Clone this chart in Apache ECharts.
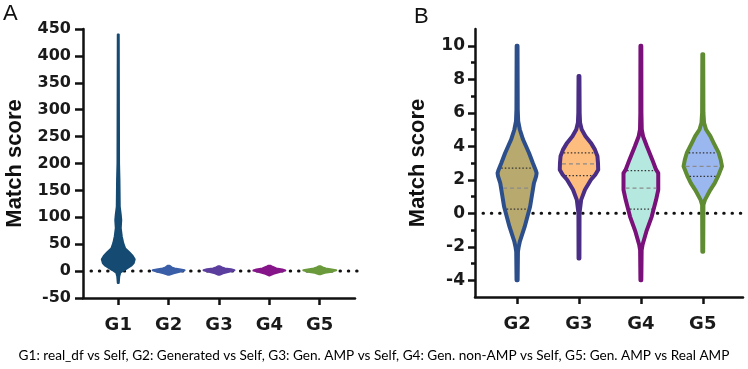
<!DOCTYPE html>
<html>
<head>
<meta charset="utf-8">
<script src="https://cdn.jsdelivr.net/npm/echarts@6/dist/echarts.min.js"></script>
<style>
  html, body { margin: 0; padding: 0; background: #fff; }
  #chart { width: 748px; height: 369px; }
</style>
</head>
<body>
<div id="chart"></div>
<script>
// categories / ticks
const catsA = ["G1", "G2", "G3", "G4", "G5"];
const catsB = ["G2", "G3", "G4", "G5"];
const ticksB = [-4, -2, 0, 2, 4, 6, 8, 10];
const minorTicksB = [-3, -1, 1, 3, 5, 7, 9];
const caption = "G1: real_df vs Self, G2: Generated vs Self, G3: Gen. AMP vs Self, G4: Gen. non-AMP vs Self, G5: Gen. AMP vs Real AMP";

// panel A: match score levels and violin density (relative half width)
const aG1Y = [-22, -10, -3, 2, 6, 10, 15, 22, 28, 35, 42, 52, 65, 80, 95, 105, 120, 170, 200, 440];
const aG1D = [0.5, 1, 2, 6, 9.5, 13, 15.5, 16.5, 14.5, 11, 7, 5, 3.5, 2.5, 3, 2.5, 1.5, 1.2, 0.8, 0.5];
const aG2Y = [-7, -4, -1, 1.5, 3, 5, 7, 10];
const aG2D = [0.5, 5, 12, 16, 12, 6, 3, 1];
const aG3Y = [-7, -4, -1, 1.5, 3.5, 5, 7, 9];
const aG3D = [0.5, 4, 11, 15.5, 12, 6, 3, 1];
const aG4Y = [-8, -5, -1, 1, 3, 5, 8, 10];
const aG4D = [0.5, 4, 12, 16, 13, 7, 3, 1];
const aG5Y = [-6, -3, -1, 1.5, 3, 5, 7, 9];
const aG5D = [0.5, 5, 12, 16.5, 12, 6, 3, 1];

// panel B: violin outlines
const bG2Y = [-4.0, -2.3, -2.0, -1.7, -0.8, 0.4, 1.0, 1.8, 2.2, 2.4, 2.6, 3.0, 3.6, 4.4, 5.0, 5.5, 6.2, 10];
const bG2D = [0.5, 0.8, 1.5, 2.5, 7, 12, 13.5, 15.5, 17.5, 18, 17, 14.5, 11, 5.5, 2.5, 1, 0.6, 0.4];
const bG3Y = [-2.7, 0.0, 0.8, 1.4, 2.0, 2.3, 2.6, 3.0, 3.4, 3.8, 4.2, 4.6, 5.0, 5.4, 6.0, 8.2];
const bG3D = [0.4, 0.5, 2, 5.5, 11, 15, 17.7, 17.5, 17, 14.7, 11, 6, 2.5, 1, 0.6, 0.4];
const bG4Y = [-4.0, -2.2, -1.9, -1.1, -0.2, 0.8, 1.4, 2.0, 2.4, 2.6, 3.2, 4.0, 4.6, 5.0, 6.0, 10.0];
const bG4D = [0.4, 0.7, 1.5, 5, 10, 14, 16, 16, 16, 14, 10.5, 5.5, 2, 0.8, 0.5, 0.4];
const bG5Y = [-2.3, 0.5, 0.8, 1.4, 1.8, 2.2, 2.8, 3.2, 3.6, 4.2, 4.6, 5.0, 5.4, 6.0, 9.5];
const bG5D = [0.4, 0.6, 2, 7, 11, 14, 17.7, 16.5, 14.7, 10, 7, 3, 1.2, 0.6, 0.4];
// quartiles [q1, median, q3]
const bG2Q = [0.25, 1.5, 2.7];
const bG3Q = [2.25, 2.95, 3.6];
const bG4Q = [0.25, 1.5, 2.55];
const bG5Q = [2.2, 2.8, 3.6];

const violinsA = [
  { y: aG1Y, d: aG1D, fill: "#154a73", stroke: "#154a73" },
  { y: aG2Y, d: aG2D, fill: "#3b5ea8", stroke: "#3b5ea8" },
  { y: aG3Y, d: aG3D, fill: "#5b3e9e", stroke: "#5b3e9e" },
  { y: aG4Y, d: aG4D, fill: "#87158a", stroke: "#87158a" },
  { y: aG5Y, d: aG5D, fill: "#6a9a3b", stroke: "#6a9a3b" },
];
const violinsB = [
  { y: bG2Y, d: bG2D, q: bG2Q, fill: "#b8a96e", stroke: "#2c4f8c" },
  { y: bG3Y, d: bG3D, q: bG3Q, fill: "#fdbd7f", stroke: "#4a2e86" },
  { y: bG4Y, d: bG4D, q: bG4Q, fill: "#b5e8df", stroke: "#7a107a" },
  { y: bG5Y, d: bG5D, q: bG5Q, fill: "#9bb7ef", stroke: "#5f8b32" },
];

function interp(ys, ds, v) {
  for (let k = 1; k < ys.length; k++) {
    if (v <= ys[k]) {
      const t = (v - ys[k - 1]) / (ys[k] - ys[k - 1]);
      return ds[k - 1] + t * (ds[k] - ds[k - 1]);
    }
  }
  return ds[ds.length - 1];
}

function violinRender(list, scale, lineW) {
  return function (params, api) {
    const v = list[params.dataIndex];
    const cx = api.value(0);
    const right = [], left = [];
    for (let k = 0; k < v.y.length; k++) {
      right.push(api.coord([cx + v.d[k] * scale, v.y[k]]));
      left.unshift(api.coord([cx - v.d[k] * scale, v.y[k]]));
    }
    const children = [{
      type: "polygon",
      shape: { points: right.concat(left) },
      style: { fill: v.fill, stroke: v.stroke, lineWidth: lineW, lineJoin: "round" },
    }];
    if (v.q) {
      v.q.forEach(function (qv, qi) {
        const w = interp(v.y, v.d, qv) * scale;
        const p1 = api.coord([cx - w, qv]);
        const p2 = api.coord([cx + w, qv]);
        children.push({
          type: "line",
          shape: { x1: p1[0] + 2, y1: p1[1], x2: p2[0] - 2, y2: p2[1] },
          style: qi === 1
            ? { stroke: "#8a8a8a", lineWidth: 1.2, lineDash: [4, 3] }
            : { stroke: "#333", lineWidth: 1.2, lineDash: [1.5, 2] },
        });
      });
    }
    return { type: "group", children: children };
  };
}

function zeroLine(params, api) {
  const cs = params.coordSys;
  const y = api.coord([api.value(0), 0])[1];
  return {
    type: "line",
    shape: { x1: cs.x + 8, y1: y, x2: cs.x + cs.width + 5, y2: y },
    style: { stroke: "#111", lineWidth: 3, lineDash: [0.5, 7.8], lineCap: "round" },
  };
}

const tickFont = { color: "#1a1a1a", fontFamily: "DejaVu Sans", fontWeight: "bold" };
const axisLineStyle = { color: "#111", width: 2.5 };

let myChart = echarts.init(document.getElementById("chart"));
myChart.setOption({
  animation: false,
  grid: [
    { left: 83, right: 393, top: 29, bottom: 71, outerBoundsMode: "none" },
    { left: 475, right: 5, top: 29, bottom: 72, outerBoundsMode: "none" },
  ],
  xAxis: [
    {
      type: "value", gridIndex: 0, min: 0.3, max: 5.7,
      splitLine: { show: false },
      axisLine: { show: true, onZero: false, lineStyle: axisLineStyle },
      axisTick: { show: true, customValues: [1, 2, 3, 4, 5], length: 7, lineStyle: axisLineStyle },
      axisLabel: {
        customValues: [1, 2, 3, 4, 5], margin: 18, fontSize: 18, ...tickFont,
        formatter: (v) => catsA[Math.round(v) - 1],
      },
    },
    {
      type: "value", gridIndex: 1, min: 0.32, max: 4.65,
      splitLine: { show: false },
      axisLine: { show: true, onZero: false, lineStyle: axisLineStyle },
      axisTick: { show: true, customValues: [1, 2, 3, 4], length: 7, lineStyle: axisLineStyle },
      axisLabel: {
        customValues: [1, 2, 3, 4], margin: 18, fontSize: 18, ...tickFont,
        formatter: (v) => catsB[Math.round(v) - 1],
      },
    },
  ],
  yAxis: [
    {
      type: "value", gridIndex: 0, min: -50, max: 450, interval: 50,
      splitLine: { show: false },
      axisLine: { show: true, onZero: false, lineStyle: axisLineStyle },
      axisTick: { show: true, length: 8, lineStyle: axisLineStyle },
      axisLabel: { margin: 12, fontSize: 16, ...tickFont },
      name: "Match score", nameLocation: "middle", nameGap: 57,
      nameTextStyle: { fontSize: 22, fontWeight: "bold", fontFamily: "Liberation Sans", color: "#111" },
    },
    {
      type: "value", gridIndex: 1, min: -5, max: 11,
      splitLine: { show: false },
      axisLine: { show: true, onZero: false, lineStyle: axisLineStyle },
      axisTick: { show: true, customValues: ticksB, length: 7, lineStyle: axisLineStyle },
      axisLabel: { customValues: ticksB, margin: 10, fontSize: 17, ...tickFont },
      name: "Match score", nameLocation: "middle", nameGap: 46,
      nameTextStyle: { fontSize: 22, fontWeight: "bold", fontFamily: "Liberation Sans", color: "#111" },
    },
    {
      type: "value", gridIndex: 1, min: -5, max: 11, position: "left", offset: 0,
      splitLine: { show: false },
      axisLine: { show: false, onZero: false },
      axisTick: { show: true, customValues: minorTicksB, length: 4, lineStyle: axisLineStyle },
      axisLabel: { show: false },
    },
  ],
  graphic: [
    { type: "text", left: 3, top: 3, style: { text: "A", font: "22px 'Liberation Sans'", fill: "#111" } },
    { type: "text", left: 414, top: 6, style: { text: "B", font: "22px 'Liberation Sans'", fill: "#111" } },
    { type: "text", left: "center", top: 349, style: { text: caption, font: "13.6px Lato", fill: "#000" } },
  ],
  series: [
    { type: "custom", xAxisIndex: 0, yAxisIndex: 0, z: 1, clip: false, data: [[1]], renderItem: zeroLine },
    { type: "custom", xAxisIndex: 1, yAxisIndex: 1, z: 1, clip: false, data: [[1]], renderItem: zeroLine },
    {
      type: "custom", xAxisIndex: 0, yAxisIndex: 0, z: 2, clip: false,
      data: [[1], [2], [3], [4], [5]],
      renderItem: violinRender(violinsA, 1 / 50.5, 2),
    },
    {
      type: "custom", xAxisIndex: 1, yAxisIndex: 1, z: 2, clip: false,
      data: [[1], [2], [3], [4]],
      renderItem: violinRender(violinsB, 1 / 57, 4),
    },
  ],
});
</script>
</body>
</html>
